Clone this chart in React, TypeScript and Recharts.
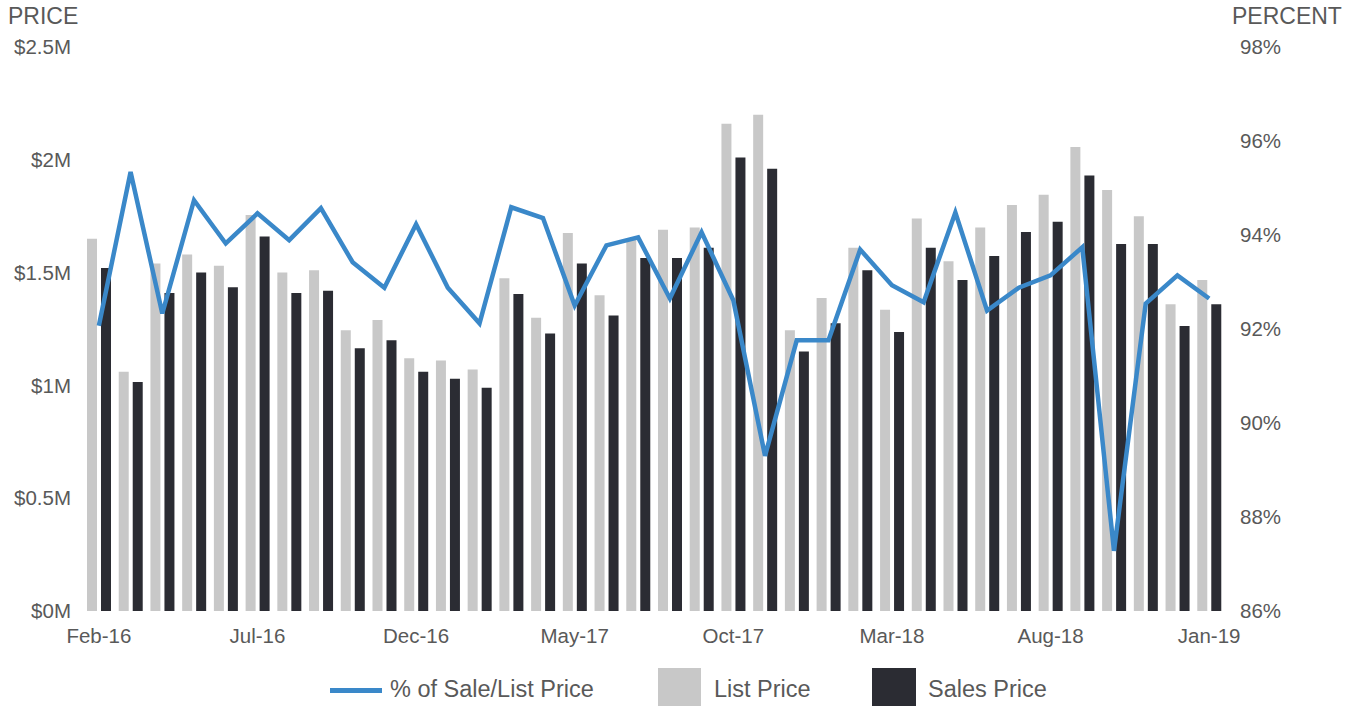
import React from "react";
import { ComposedChart, Bar, Line, XAxis, YAxis } from "recharts";

const months = [
  "Feb-16","Mar-16","Apr-16","May-16","Jun-16","Jul-16","Aug-16","Sep-16","Oct-16","Nov-16","Dec-16","Jan-17",
  "Feb-17","Mar-17","Apr-17","May-17","Jun-17","Jul-17","Aug-17","Sep-17","Oct-17","Nov-17","Dec-17","Jan-18",
  "Feb-18","Mar-18","Apr-18","May-18","Jun-18","Jul-18","Aug-18","Sep-18","Oct-18","Nov-18","Dec-18","Jan-19",
];

const listPrice = [
  1.65, 1.06, 1.54, 1.58, 1.53, 1.755, 1.5, 1.51, 1.245, 1.29, 1.12, 1.11,
  1.07, 1.475, 1.3, 1.675, 1.4, 1.645, 1.69, 1.7, 2.16, 2.2, 1.245, 1.387,
  1.61, 1.335, 1.74, 1.55, 1.7, 1.8, 1.845, 2.057, 1.866, 1.75, 1.36, 1.467,
];

const salesPrice = [
  1.52, 1.015, 1.41, 1.5, 1.435, 1.66, 1.41, 1.42, 1.165, 1.2, 1.06, 1.03,
  0.99, 1.405, 1.23, 1.54, 1.31, 1.565, 1.565, 1.61, 2.01, 1.96, 1.15, 1.275,
  1.51, 1.237, 1.61, 1.467, 1.574, 1.68, 1.725, 1.93, 1.627, 1.627, 1.263, 1.36,
];

const pctSaleList = [
  92.07, 95.34, 92.33, 94.74, 93.82, 94.46, 93.89, 94.57, 93.42, 92.88, 94.23, 92.88,
  92.12, 94.59, 94.36, 92.5, 93.78, 93.95, 92.65, 94.06, 92.61, 89.3, 91.76, 91.76,
  93.69, 92.93, 92.57, 94.48, 92.39, 92.88, 93.14, 93.74, 87.28, 92.54, 93.14, 92.65,
];

const priceTicks = [0, 0.5, 1, 1.5, 2, 2.5];
const pctTicks = [86, 88, 90, 92, 94, 96, 98];

const data = months.map((m, i) => ({
  month: m,
  list: listPrice[i] * 1e6,
  sales: salesPrice[i] * 1e6,
  pct: pctSaleList[i],
}));

const FONT = '"Liberation Sans", Arial, sans-serif';
const TEXT = "#595959";
const GRAY = "#c8c8c8";
const DARK = "#2b2c33";
const BLUE = "#3a88c9";

export default function App() {
  return (
    <div style={{ position: "relative", width: 1362, height: 706, fontFamily: FONT, background: "#fff" }}>
      <style>{"body{margin:0}"}</style>
      <div style={{ position: "absolute", left: 8, top: 5, fontSize: 23, lineHeight: 1, color: TEXT }}>PRICE</div>
      <div style={{ position: "absolute", left: 1232, top: 5, fontSize: 23, lineHeight: 1, color: TEXT }}>PERCENT</div>
      <ComposedChart
        width={1362}
        height={706}
        data={data}
        margin={{ top: 47, right: 17, left: 13, bottom: 65 }}
        barGap={4}
        style={{ fontFamily: FONT }}
      >
        <XAxis
          dataKey="month"
          interval={4}
          height={30}
          axisLine={false}
          tickLine={false}
          tickSize={0}
          tickMargin={17}
          tick={{ fill: TEXT, fontSize: 20.5 }}
        />
        <YAxis
          yAxisId="price"
          orientation="left"
          width={70}
          domain={[0, 2.5e6]}
          ticks={priceTicks.map((t) => t * 1e6)}
          tickFormatter={(v: number) => `$${v / 1e6}M`}
          axisLine={false}
          tickLine={false}
          tickSize={0}
          tickMargin={12}
          tick={{ fill: TEXT, fontSize: 20.5 }}
        />
        <YAxis
          yAxisId="pct"
          orientation="right"
          width={120}
          domain={[86, 98]}
          ticks={pctTicks}
          tickFormatter={(v: number) => `${v}%`}
          axisLine={false}
          tickLine={false}
          tickSize={0}
          tickMargin={15}
          tick={{ fill: TEXT, fontSize: 20.5, textAnchor: "start" }}
        />
        <Bar yAxisId="price" dataKey="list" fill={GRAY} barSize={10} isAnimationActive={false} />
        <Bar yAxisId="price" dataKey="sales" fill={DARK} barSize={10} isAnimationActive={false} />
        <Line
          yAxisId="pct"
          dataKey="pct"
          type="linear"
          stroke={BLUE}
          strokeWidth={4.5}
          dot={false}
          activeDot={false}
          isAnimationActive={false}
        />
      </ComposedChart>
      <div style={{ position: "absolute", left: 330, top: 688, width: 52, height: 5, background: BLUE }} />
      <div style={{ position: "absolute", left: 390, top: 678, fontSize: 23.5, lineHeight: 1, color: TEXT }}>% of Sale/List Price</div>
      <div style={{ position: "absolute", left: 658, top: 668, width: 43, height: 38, background: GRAY }} />
      <div style={{ position: "absolute", left: 714, top: 678, fontSize: 23.5, lineHeight: 1, color: TEXT }}>List Price</div>
      <div style={{ position: "absolute", left: 872, top: 668, width: 44, height: 38, background: DARK }} />
      <div style={{ position: "absolute", left: 928, top: 678, fontSize: 23.5, lineHeight: 1, color: TEXT }}>Sales Price</div>
    </div>
  );
}
